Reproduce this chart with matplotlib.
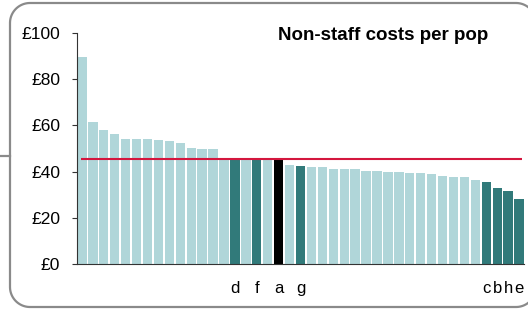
import matplotlib

matplotlib.use("Agg")
import matplotlib.pyplot as plt
import numpy as np
from matplotlib.lines import Line2D
from matplotlib.transforms import IdentityTransform

plt.rcParams["font.family"] = ["Liberation Sans", "DejaVu Sans"]

# cost per head for each authority, sorted high to low
costs = [89.5, 61.5, 58.2, 56.2, 54.3, 53.9, 53.9, 53.6, 53.2, 52.3,
         50.1, 49.8, 49.8, 46.1, 46.1, 46.0, 45.6, 45.6, 45.4, 42.8,
         42.3, 42.0, 42.0, 41.3, 41.0, 41.0, 40.1, 40.1, 39.8, 39.8,
         39.5, 39.2, 38.9, 38.3, 37.5, 37.5, 36.5, 35.6, 32.9, 31.7,
         28.1]
names = [""] * len(costs)
for idx, lab in [(14, "d"), (16, "f"), (18, "a"), (20, "g"),
                 (37, "c"), (38, "b"), (39, "h"), (40, "e")]:
    names[idx] = lab
self_label = "a"
average = 45.3
yticks = [0, 20, 40, 60, 80, 100]
ytick_labels = ["£0", "£20", "£40", "£60", "£80", "£100"]

LIGHT = "#b0d6d9"
DARK = "#317a7a"
colors = []
for n in names:
    if n == self_label:
        colors.append("black")
    elif n:
        colors.append(DARK)
    else:
        colors.append(LIGHT)

fig = plt.figure(figsize=(5.28, 3.10), dpi=100)


def arc(cx, cy, r, a0, a1):
    t = np.radians(np.linspace(a0, a1, 24))
    return cx + r * np.cos(t), cy + r * np.sin(t)


# rounded frame as an open outline in pixel coords; the right side sits
# off the canvas so only the corner curves show
left, right, bottom, top, r = 10, 536, 3, 307, 20
pieces = [arc(right - r, top - r, r, 0, 90), arc(left + r, top - r, r, 90, 180),
          arc(left + r, bottom + r, r, 180, 270),
          arc(right - r, bottom + r, r, 270, 360)]
fx = np.concatenate([p[0] for p in pieces])
fy = np.concatenate([p[1] for p in pieces])
fig.lines.append(Line2D(fx, fy, transform=IdentityTransform(),
                        color="#8a8a8a", lw=1.6))
fig.lines.append(Line2D([0, 10 / 528], [1 - 156 / 310] * 2,
                        transform=fig.transFigure, color="#8a8a8a", lw=1.6))

ax = fig.add_axes([77 / 528, 1 - 264 / 310, 447 / 528, 231 / 310])
ax.patch.set_alpha(0)
x = range(len(costs))
ax.bar(x, costs, width=0.86, color=colors, zorder=2)
ax.hlines(average, -0.05, 40.25, color="#d4163e", lw=1.5, zorder=3)

ax.set_xlim(-0.45, len(costs) - 0.55)
ax.set_ylim(0, 100)
ax.set_yticks(yticks)
ax.set_yticklabels(ytick_labels, fontsize=12.5)
ax.set_xticks(list(x))
ax.set_xticklabels(names, fontsize=12)
ax.tick_params(axis="x", length=0, pad=12.5)
ax.tick_params(axis="y", length=3.6, pad=8.5, color="#333333")
for side in ["top", "right"]:
    ax.spines[side].set_visible(False)
for side in ["left", "bottom"]:
    ax.spines[side].set_color("#333333")

fig.text(383 / 528, 1 - 35 / 310, "Non-staff costs per pop", fontsize=13.5,
         fontweight="bold", ha="center", va="center")

fig.savefig("out.png", dpi=100)
